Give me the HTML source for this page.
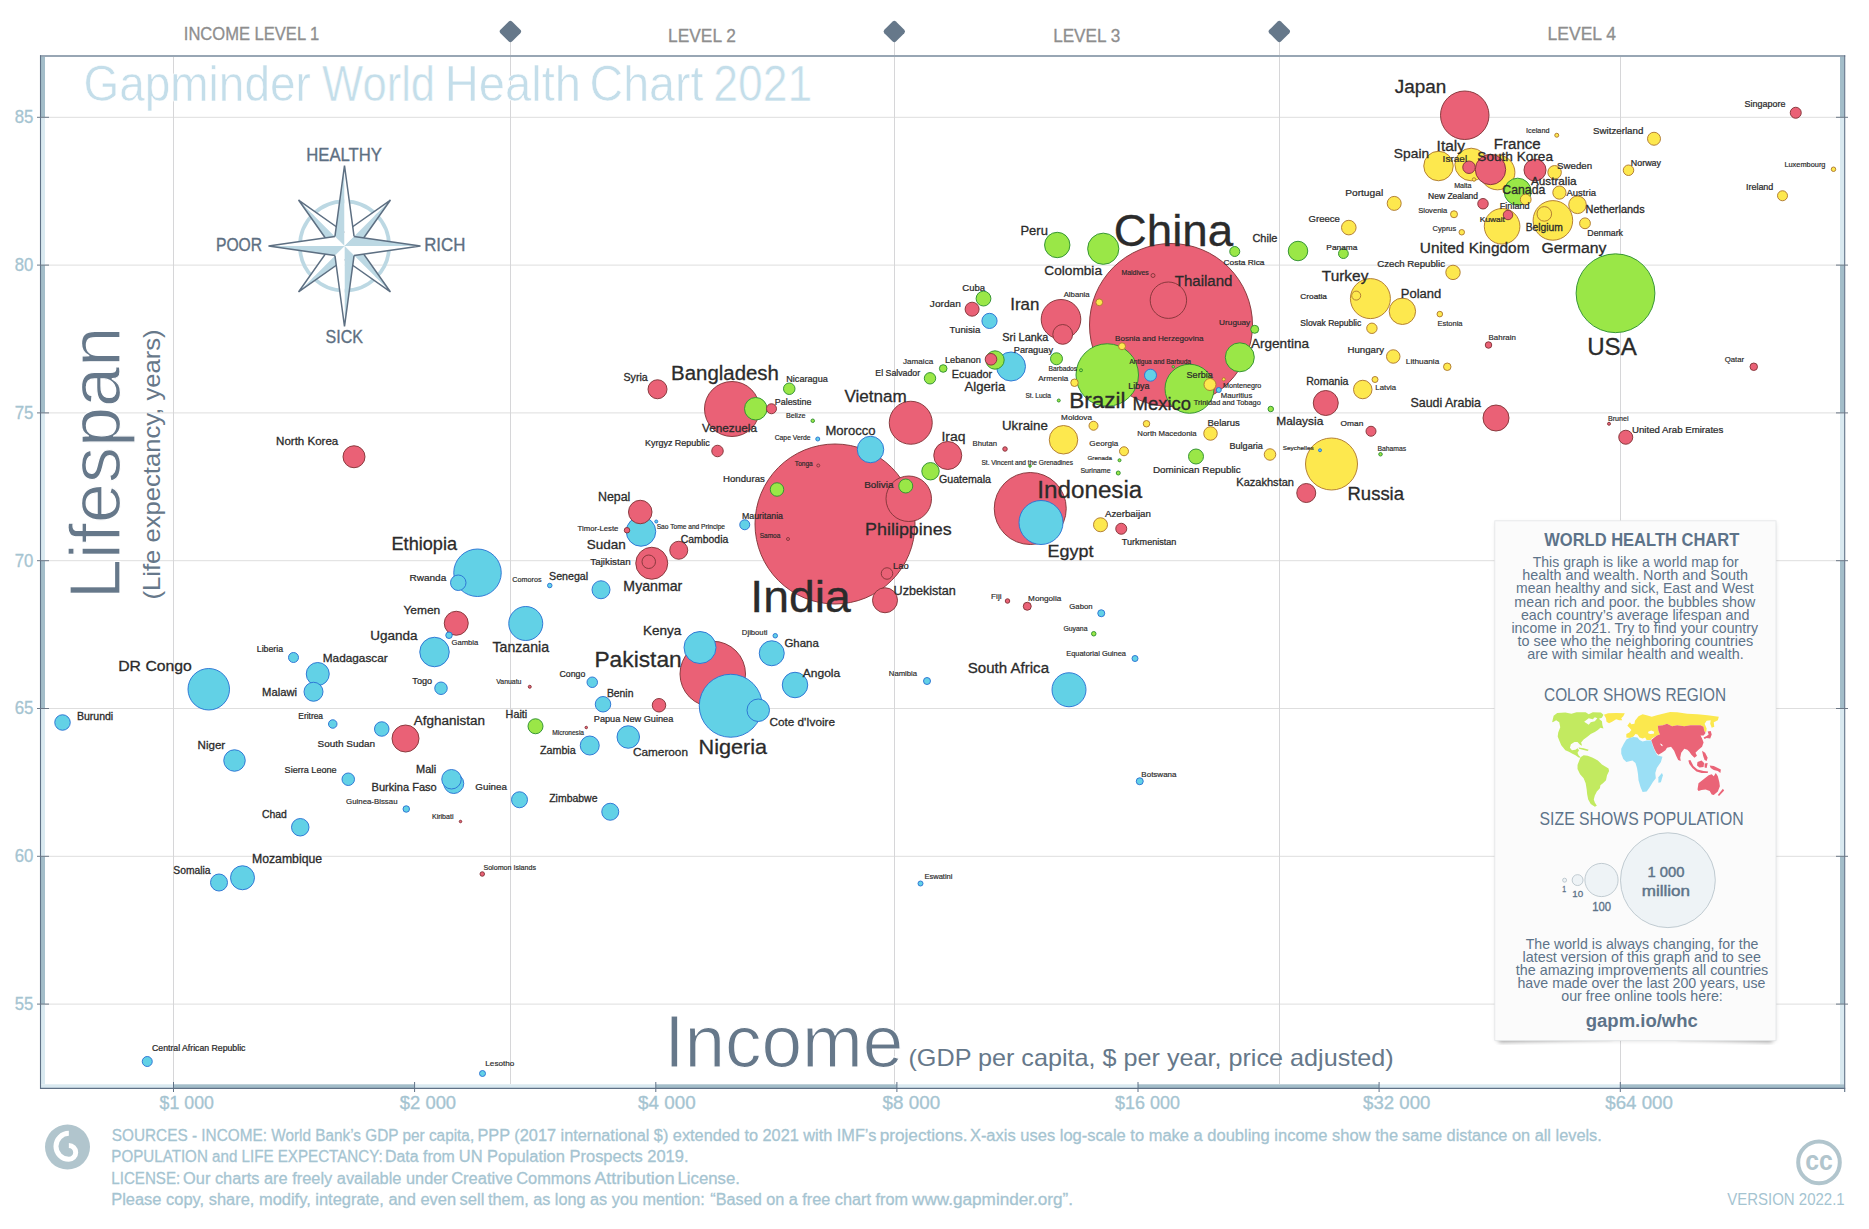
<!DOCTYPE html>
<html lang="en"><head><meta charset="utf-8"><title>Gapminder World Health Chart 2021</title>
<style>html,body{margin:0;padding:0;background:#fff}svg{display:block}</style></head>
<body>
<svg width="1869" height="1229" viewBox="0 0 1869 1229" font-family="'Liberation Sans', sans-serif">
<rect width="1869" height="1229" fill="#fff"/>
<line x1="45" x2="1840" y1="117.3" y2="117.3" stroke="#dedede" stroke-width="1"/>
<line x1="45" x2="1840" y1="265.1" y2="265.1" stroke="#dedede" stroke-width="1"/>
<line x1="45" x2="1840" y1="412.9" y2="412.9" stroke="#dedede" stroke-width="1"/>
<line x1="45" x2="1840" y1="560.7" y2="560.7" stroke="#dedede" stroke-width="1"/>
<line x1="45" x2="1840" y1="708.5" y2="708.5" stroke="#dedede" stroke-width="1"/>
<line x1="45" x2="1840" y1="856.3" y2="856.3" stroke="#dedede" stroke-width="1"/>
<line x1="45" x2="1840" y1="1004.1" y2="1004.1" stroke="#dedede" stroke-width="1"/>
<line x1="173.5" x2="173.5" y1="57" y2="1084" stroke="#d6d6d8" stroke-width="1"/>
<line x1="510.5" x2="510.5" y1="40" y2="1084" stroke="#d6d6d8" stroke-width="1"/>
<line x1="894.5" x2="894.5" y1="40" y2="1084" stroke="#d6d6d8" stroke-width="1"/>
<line x1="1279.5" x2="1279.5" y1="40" y2="1084" stroke="#d6d6d8" stroke-width="1"/>
<line x1="1620.5" x2="1620.5" y1="57" y2="1084" stroke="#d6d6d8" stroke-width="1"/>
<rect x="41" y="57" width="4" height="60.30" fill="#a3bdc9"/>
<rect x="1840" y="57" width="4.2" height="60.30" fill="#a3bdc9"/>
<rect x="41" y="117.3" width="4" height="147.80" fill="#d9e9f0"/>
<rect x="1840" y="117.3" width="4.2" height="147.80" fill="#d9e9f0"/>
<rect x="41" y="265.1" width="4" height="147.80" fill="#a3bdc9"/>
<rect x="1840" y="265.1" width="4.2" height="147.80" fill="#a3bdc9"/>
<rect x="41" y="412.9" width="4" height="147.80" fill="#d9e9f0"/>
<rect x="1840" y="412.9" width="4.2" height="147.80" fill="#d9e9f0"/>
<rect x="41" y="560.7" width="4" height="147.80" fill="#a3bdc9"/>
<rect x="1840" y="560.7" width="4.2" height="147.80" fill="#a3bdc9"/>
<rect x="41" y="708.5" width="4" height="147.80" fill="#d9e9f0"/>
<rect x="1840" y="708.5" width="4.2" height="147.80" fill="#d9e9f0"/>
<rect x="41" y="856.3" width="4" height="147.80" fill="#a3bdc9"/>
<rect x="1840" y="856.3" width="4.2" height="147.80" fill="#a3bdc9"/>
<rect x="41" y="1004.1" width="4" height="80.20" fill="#d9e9f0"/>
<rect x="1840" y="1004.1" width="4.2" height="80.20" fill="#d9e9f0"/>
<rect x="41" y="1084.3" width="132.50" height="3.7" fill="#d9e9f0"/>
<rect x="173.5" y="1084.3" width="241.10" height="3.7" fill="#a3bdc9"/>
<rect x="414.6" y="1084.3" width="241.20" height="3.7" fill="#d9e9f0"/>
<rect x="655.8" y="1084.3" width="241.10" height="3.7" fill="#a3bdc9"/>
<rect x="896.9" y="1084.3" width="241.10" height="3.7" fill="#d9e9f0"/>
<rect x="1138.0" y="1084.3" width="241.10" height="3.7" fill="#a3bdc9"/>
<rect x="1379.1" y="1084.3" width="241.20" height="3.7" fill="#d9e9f0"/>
<rect x="1620.3" y="1084.3" width="223.90" height="3.7" fill="#a3bdc9"/>
<line x1="40" x2="1845.2" y1="56" y2="56" stroke="#98a6b4" stroke-width="1.8"/>
<line x1="40.5" x2="40.5" y1="55.2" y2="1089" stroke="#5f7186" stroke-width="1.1"/>
<line x1="1844.7" x2="1844.7" y1="55.2" y2="1092" stroke="#5f7186" stroke-width="1.1"/>
<line x1="40" x2="1845.2" y1="1088.4" y2="1088.4" stroke="#5f7186" stroke-width="1.1"/>
<line x1="37" x2="49" y1="117.3" y2="117.3" stroke="#6b7785" stroke-width="1"/>
<line x1="1836" x2="1848" y1="117.3" y2="117.3" stroke="#6b7785" stroke-width="1"/>
<line x1="37" x2="49" y1="265.1" y2="265.1" stroke="#6b7785" stroke-width="1"/>
<line x1="1836" x2="1848" y1="265.1" y2="265.1" stroke="#6b7785" stroke-width="1"/>
<line x1="37" x2="49" y1="412.9" y2="412.9" stroke="#6b7785" stroke-width="1"/>
<line x1="1836" x2="1848" y1="412.9" y2="412.9" stroke="#6b7785" stroke-width="1"/>
<line x1="37" x2="49" y1="560.7" y2="560.7" stroke="#6b7785" stroke-width="1"/>
<line x1="1836" x2="1848" y1="560.7" y2="560.7" stroke="#6b7785" stroke-width="1"/>
<line x1="37" x2="49" y1="708.5" y2="708.5" stroke="#6b7785" stroke-width="1"/>
<line x1="1836" x2="1848" y1="708.5" y2="708.5" stroke="#6b7785" stroke-width="1"/>
<line x1="37" x2="49" y1="856.3" y2="856.3" stroke="#6b7785" stroke-width="1"/>
<line x1="1836" x2="1848" y1="856.3" y2="856.3" stroke="#6b7785" stroke-width="1"/>
<line x1="37" x2="49" y1="1004.1" y2="1004.1" stroke="#6b7785" stroke-width="1"/>
<line x1="1836" x2="1848" y1="1004.1" y2="1004.1" stroke="#6b7785" stroke-width="1"/>
<line x1="173.5" x2="173.5" y1="1082" y2="1092" stroke="#5f7186" stroke-width="1"/>
<line x1="414.6" x2="414.6" y1="1082" y2="1092" stroke="#5f7186" stroke-width="1"/>
<line x1="655.8" x2="655.8" y1="1082" y2="1092" stroke="#5f7186" stroke-width="1"/>
<line x1="896.9" x2="896.9" y1="1082" y2="1092" stroke="#5f7186" stroke-width="1"/>
<line x1="1138.0" x2="1138.0" y1="1082" y2="1092" stroke="#5f7186" stroke-width="1"/>
<line x1="1379.1" x2="1379.1" y1="1082" y2="1092" stroke="#5f7186" stroke-width="1"/>
<line x1="1620.3" x2="1620.3" y1="1082" y2="1092" stroke="#5f7186" stroke-width="1"/>
<text x="14.74" y="123.20" font-size="17.70" fill="#a5c4d1" textLength="18.67" lengthAdjust="spacingAndGlyphs" stroke="#a5c4d1" stroke-width="0.3">85</text>
<text x="14.75" y="271.00" font-size="17.70" fill="#a5c4d1" textLength="18.58" lengthAdjust="spacingAndGlyphs" stroke="#a5c4d1" stroke-width="0.3">80</text>
<text x="14.66" y="418.80" font-size="17.70" fill="#a5c4d1" textLength="18.76" lengthAdjust="spacingAndGlyphs" stroke="#a5c4d1" stroke-width="0.3">75</text>
<text x="14.66" y="566.60" font-size="17.70" fill="#a5c4d1" textLength="18.67" lengthAdjust="spacingAndGlyphs" stroke="#a5c4d1" stroke-width="0.3">70</text>
<text x="14.66" y="714.40" font-size="17.70" fill="#a5c4d1" textLength="18.76" lengthAdjust="spacingAndGlyphs" stroke="#a5c4d1" stroke-width="0.3">65</text>
<text x="14.66" y="862.20" font-size="17.70" fill="#a5c4d1" textLength="18.67" lengthAdjust="spacingAndGlyphs" stroke="#a5c4d1" stroke-width="0.3">60</text>
<text x="14.83" y="1010.00" font-size="17.70" fill="#a5c4d1" textLength="18.58" lengthAdjust="spacingAndGlyphs" stroke="#a5c4d1" stroke-width="0.3">55</text>
<text x="159.62" y="1109.00" font-size="17.70" fill="#a5c4d1" textLength="54.27" lengthAdjust="spacingAndGlyphs" stroke="#a5c4d1" stroke-width="0.3">$1 000</text>
<text x="399.82" y="1109.00" font-size="17.70" fill="#a5c4d1" textLength="56.30" lengthAdjust="spacingAndGlyphs" stroke="#a5c4d1" stroke-width="0.3">$2 000</text>
<text x="638.11" y="1109.00" font-size="17.70" fill="#a5c4d1" textLength="57.52" lengthAdjust="spacingAndGlyphs" stroke="#a5c4d1" stroke-width="0.3">$4 000</text>
<text x="882.61" y="1109.00" font-size="17.70" fill="#a5c4d1" textLength="57.52" lengthAdjust="spacingAndGlyphs" stroke="#a5c4d1" stroke-width="0.3">$8 000</text>
<text x="1115.12" y="1109.00" font-size="17.70" fill="#a5c4d1" textLength="64.80" lengthAdjust="spacingAndGlyphs" stroke="#a5c4d1" stroke-width="0.3">$16 000</text>
<text x="1363.11" y="1109.00" font-size="17.70" fill="#a5c4d1" textLength="67.34" lengthAdjust="spacingAndGlyphs" stroke="#a5c4d1" stroke-width="0.3">$32 000</text>
<text x="1605.31" y="1109.00" font-size="17.70" fill="#a5c4d1" textLength="67.64" lengthAdjust="spacingAndGlyphs" stroke="#a5c4d1" stroke-width="0.3">$64 000</text>
<text x="183.81" y="39.50" font-size="17.90" fill="#8e8e8e" textLength="135.49" lengthAdjust="spacingAndGlyphs" stroke="#8e8e8e" stroke-width="0.3">INCOME LEVEL 1</text>
<text x="668.11" y="42.00" font-size="17.90" fill="#8e8e8e" textLength="67.76" lengthAdjust="spacingAndGlyphs" stroke="#8e8e8e" stroke-width="0.3">LEVEL 2</text>
<text x="1053.13" y="42.00" font-size="17.90" fill="#8e8e8e" textLength="67.06" lengthAdjust="spacingAndGlyphs" stroke="#8e8e8e" stroke-width="0.3">LEVEL 3</text>
<text x="1547.60" y="40.00" font-size="17.90" fill="#8e8e8e" textLength="68.43" lengthAdjust="spacingAndGlyphs" stroke="#8e8e8e" stroke-width="0.3">LEVEL 4</text>
<rect x="502.2" y="23.3" width="16.4" height="16.4" rx="2.3" fill="#66788a" transform="rotate(45 510.4 31.5)"/>
<rect x="886.0999999999999" y="23.3" width="16.4" height="16.4" rx="2.3" fill="#66788a" transform="rotate(45 894.3 31.5)"/>
<rect x="1271.1" y="23.3" width="16.4" height="16.4" rx="2.3" fill="#66788a" transform="rotate(45 1279.3 31.5)"/>
<text x="83.40" y="100.70" font-size="50.60" fill="#c4deea" textLength="227.48" lengthAdjust="spacingAndGlyphs" stroke="#fff" stroke-width="0.6">Gapminder</text>
<text x="322.08" y="100.70" font-size="50.60" fill="#c4deea" textLength="113.00" lengthAdjust="spacingAndGlyphs" stroke="#fff" stroke-width="0.6">World</text>
<text x="444.73" y="100.70" font-size="50.60" fill="#c4deea" textLength="136.37" lengthAdjust="spacingAndGlyphs" stroke="#fff" stroke-width="0.6">Health</text>
<text x="589.57" y="100.70" font-size="50.60" fill="#c4deea" textLength="113.88" lengthAdjust="spacingAndGlyphs" stroke="#fff" stroke-width="0.6">Chart</text>
<text x="713.17" y="100.70" font-size="50.60" fill="#c4deea" textLength="99.01" lengthAdjust="spacingAndGlyphs" stroke="#fff" stroke-width="0.6">2021</text>
<g transform="translate(119.5,593) rotate(-90)">
<text x="-6.37" y="0.00" font-size="73.00" fill="#66788a" textLength="272.72" lengthAdjust="spacingAndGlyphs" stroke="#fff" stroke-width="1.2">Lifespan</text>
</g>
<g transform="translate(160,598) rotate(-90)">
<text x="-1.54" y="0.00" font-size="23.40" fill="#66788a" textLength="270.12" lengthAdjust="spacingAndGlyphs">(Life expectancy, years)</text>
</g>
<text x="664.13" y="1066.50" font-size="73.50" fill="#66788a" textLength="239.31" lengthAdjust="spacingAndGlyphs" stroke="#fff" stroke-width="1.2">Income</text>
<text x="908.49" y="1065.50" font-size="23.40" fill="#66788a" textLength="485.14" lengthAdjust="spacingAndGlyphs">(GDP per capita, $ per year, price adjusted)</text>
<circle cx="344.5" cy="246.0" r="44.6" fill="none" stroke="#bcd8e3" stroke-width="3.7"/>
<polygon points="344.50,246.00 344.50,232.50 390.46,200.04" fill="#fff"/>
<polygon points="344.50,246.00 358.00,246.00 390.46,200.04" fill="#bcd8e3"/>
<polyline points="344.50,232.50 390.46,200.04 358.00,246.00" fill="none" stroke="#5d6f82" stroke-width="1.5" stroke-linejoin="miter"/>
<polygon points="344.50,246.00 331.00,246.00 298.54,200.04" fill="#bcd8e3"/>
<polygon points="344.50,246.00 344.50,232.50 298.54,200.04" fill="#fff"/>
<polyline points="331.00,246.00 298.54,200.04 344.50,232.50" fill="none" stroke="#5d6f82" stroke-width="1.5" stroke-linejoin="miter"/>
<polygon points="344.50,246.00 344.50,259.50 298.54,291.96" fill="#bcd8e3"/>
<polygon points="344.50,246.00 331.00,246.00 298.54,291.96" fill="#fff"/>
<polyline points="344.50,259.50 298.54,291.96 331.00,246.00" fill="none" stroke="#5d6f82" stroke-width="1.5" stroke-linejoin="miter"/>
<polygon points="344.50,246.00 358.00,246.00 390.46,291.96" fill="#bcd8e3"/>
<polygon points="344.50,246.00 344.50,259.50 390.46,291.96" fill="#fff"/>
<polyline points="358.00,246.00 390.46,291.96 344.50,259.50" fill="none" stroke="#5d6f82" stroke-width="1.5" stroke-linejoin="miter"/>
<polygon points="344.50,246.00 334.95,236.45 344.50,165.50" fill="#bcd8e3"/>
<polygon points="344.50,246.00 354.05,236.45 344.50,165.50" fill="#fff"/>
<polyline points="334.95,236.45 344.50,165.50 354.05,236.45" fill="none" stroke="#5d6f82" stroke-width="1.5" stroke-linejoin="miter"/>
<polygon points="344.50,246.00 354.05,236.45 420.50,246.00" fill="#bcd8e3"/>
<polygon points="344.50,246.00 354.05,255.55 420.50,246.00" fill="#fff"/>
<polyline points="354.05,236.45 420.50,246.00 354.05,255.55" fill="none" stroke="#5d6f82" stroke-width="1.5" stroke-linejoin="miter"/>
<polygon points="344.50,246.00 354.05,255.55 344.50,326.50" fill="#bcd8e3"/>
<polygon points="344.50,246.00 334.95,255.55 344.50,326.50" fill="#fff"/>
<polyline points="354.05,255.55 344.50,326.50 334.95,255.55" fill="none" stroke="#5d6f82" stroke-width="1.5" stroke-linejoin="miter"/>
<polygon points="344.50,246.00 334.95,255.55 268.50,246.00" fill="#bcd8e3"/>
<polygon points="344.50,246.00 334.95,236.45 268.50,246.00" fill="#fff"/>
<polyline points="334.95,255.55 268.50,246.00 334.95,236.45" fill="none" stroke="#5d6f82" stroke-width="1.5" stroke-linejoin="miter"/>
<text x="306.27" y="160.90" font-size="18.40" fill="#5d6f82" textLength="75.62" lengthAdjust="spacingAndGlyphs" stroke="#5d6f82" stroke-width="0.35">HEALTHY</text>
<text x="215.95" y="250.80" font-size="18.40" fill="#5d6f82" textLength="46.16" lengthAdjust="spacingAndGlyphs" stroke="#5d6f82" stroke-width="0.35">POOR</text>
<text x="424.15" y="250.80" font-size="18.40" fill="#5d6f82" textLength="41.17" lengthAdjust="spacingAndGlyphs" stroke="#5d6f82" stroke-width="0.35">RICH</text>
<text x="325.58" y="342.50" font-size="18.40" fill="#5d6f82" textLength="37.45" lengthAdjust="spacingAndGlyphs" stroke="#5d6f82" stroke-width="0.35">SICK</text>
<g stroke-width="0.95">
<circle cx="1171.0" cy="325.0" r="81.5" fill="#ea6176" stroke="#85363a"/>
<circle cx="835.0" cy="524.0" r="80.0" fill="#ea6176" stroke="#85363a"/>
<circle cx="1615.5" cy="293.25" r="39.4" fill="#9ae747" stroke="#2f9030"/>
<circle cx="1030.25" cy="508.5" r="36.0" fill="#ea6176" stroke="#85363a"/>
<circle cx="712.75" cy="674.0" r="32.75" fill="#ea6176" stroke="#85363a"/>
<circle cx="730.75" cy="705.75" r="31.5" fill="#62d1e6" stroke="#2b74d4"/>
<circle cx="1107.25" cy="375.0" r="31.25" fill="#9ae747" stroke="#2f9030"/>
<circle cx="732.0" cy="409.0" r="27.5" fill="#ea6176" stroke="#85363a"/>
<circle cx="1331.5" cy="464.0" r="26.0" fill="#fde84e" stroke="#b07a30"/>
<circle cx="1189.5" cy="388.75" r="24.5" fill="#9ae747" stroke="#2f9030"/>
<circle cx="1464.75" cy="115.25" r="24.25" fill="#ea6176" stroke="#85363a"/>
<circle cx="477.5" cy="572.75" r="23.75" fill="#62d1e6" stroke="#2b74d4"/>
<circle cx="908.75" cy="498.75" r="22.75" fill="#ea6176" stroke="#85363a"/>
<circle cx="1041.0" cy="522.5" r="22.0" fill="#62d1e6" stroke="#2b74d4"/>
<circle cx="910.75" cy="422.75" r="21.5" fill="#ea6176" stroke="#85363a"/>
<circle cx="208.75" cy="689.25" r="20.75" fill="#62d1e6" stroke="#2b74d4"/>
<circle cx="1370.4" cy="298.6" r="20.0" fill="#fde84e" stroke="#b07a30"/>
<circle cx="1061.0" cy="319.3" r="19.8" fill="#ea6176" stroke="#85363a"/>
<circle cx="1552.9" cy="220.4" r="19.8" fill="#fde84e" stroke="#b07a30"/>
<circle cx="1168.4" cy="300.2" r="18.2" fill="#ea6176" stroke="#85363a"/>
<circle cx="1502.1" cy="226.3" r="17.8" fill="#fde84e" stroke="#b07a30"/>
<circle cx="1497.5" cy="172.4" r="17.4" fill="#fde84e" stroke="#b07a30"/>
<circle cx="525.75" cy="623.5" r="17.0" fill="#62d1e6" stroke="#2b74d4"/>
<circle cx="1069.0" cy="689.75" r="17.0" fill="#62d1e6" stroke="#2b74d4"/>
<circle cx="1471.2" cy="164.5" r="16.3" fill="#fde84e" stroke="#b07a30"/>
<circle cx="651.75" cy="563.25" r="16.0" fill="#ea6176" stroke="#85363a"/>
<circle cx="700.0" cy="647.5" r="16.0" fill="#62d1e6" stroke="#2b74d4"/>
<circle cx="1103.25" cy="248.75" r="15.6" fill="#9ae747" stroke="#2f9030"/>
<circle cx="1490.5" cy="169.5" r="15.2" fill="#ea6176" stroke="#85363a"/>
<circle cx="1438.5" cy="166.0" r="14.75" fill="#fde84e" stroke="#b07a30"/>
<circle cx="641.0" cy="531.5" r="14.75" fill="#62d1e6" stroke="#2b74d4"/>
<circle cx="434.5" cy="652.0" r="14.75" fill="#62d1e6" stroke="#2b74d4"/>
<circle cx="1239.8" cy="357.3" r="14.5" fill="#9ae747" stroke="#2f9030"/>
<circle cx="1011.0" cy="366.5" r="14.5" fill="#62d1e6" stroke="#2b74d4"/>
<circle cx="1063.5" cy="439.75" r="14.25" fill="#fde84e" stroke="#b07a30"/>
<circle cx="947.75" cy="455.5" r="14.0" fill="#ea6176" stroke="#85363a"/>
<circle cx="405.5" cy="738.5" r="13.5" fill="#ea6176" stroke="#85363a"/>
<circle cx="1517.7" cy="191.7" r="13.5" fill="#9ae747" stroke="#2f9030"/>
<circle cx="870.5" cy="449.5" r="13.25" fill="#62d1e6" stroke="#2b74d4"/>
<circle cx="1402.4" cy="311.3" r="13.2" fill="#fde84e" stroke="#b07a30"/>
<circle cx="1496.0" cy="418.0" r="13.0" fill="#ea6176" stroke="#85363a"/>
<circle cx="795.0" cy="685.0" r="12.75" fill="#62d1e6" stroke="#2b74d4"/>
<circle cx="1057.25" cy="245.0" r="12.7" fill="#9ae747" stroke="#2f9030"/>
<circle cx="885.0" cy="600.25" r="12.5" fill="#ea6176" stroke="#85363a"/>
<circle cx="1325.75" cy="403.0" r="12.5" fill="#ea6176" stroke="#85363a"/>
<circle cx="771.75" cy="653.25" r="12.5" fill="#62d1e6" stroke="#2b74d4"/>
<circle cx="456.25" cy="623.25" r="12.0" fill="#ea6176" stroke="#85363a"/>
<circle cx="242.5" cy="877.75" r="12.0" fill="#62d1e6" stroke="#2b74d4"/>
<circle cx="640.25" cy="512.0" r="11.75" fill="#ea6176" stroke="#85363a"/>
<circle cx="317.75" cy="674.0" r="11.5" fill="#62d1e6" stroke="#2b74d4"/>
<circle cx="755.75" cy="408.75" r="11.25" fill="#9ae747" stroke="#2f9030"/>
<circle cx="758.25" cy="710.25" r="11.25" fill="#62d1e6" stroke="#2b74d4"/>
<circle cx="628.25" cy="737.0" r="11.25" fill="#62d1e6" stroke="#2b74d4"/>
<circle cx="1535.0" cy="170.0" r="11.0" fill="#ea6176" stroke="#85363a"/>
<circle cx="354.0" cy="456.75" r="11.0" fill="#ea6176" stroke="#85363a"/>
<circle cx="234.5" cy="760.5" r="10.75" fill="#62d1e6" stroke="#2b74d4"/>
<circle cx="453.75" cy="783.5" r="10.0" fill="#62d1e6" stroke="#2b74d4"/>
<circle cx="1062.7" cy="334.4" r="9.9" fill="#ea6176" stroke="#85363a"/>
<circle cx="1298.0" cy="251.0" r="9.75" fill="#9ae747" stroke="#2f9030"/>
<circle cx="451.5" cy="779.25" r="9.75" fill="#62d1e6" stroke="#2b74d4"/>
<circle cx="657.5" cy="389.25" r="9.5" fill="#ea6176" stroke="#85363a"/>
<circle cx="1306.25" cy="493.0" r="9.5" fill="#ea6176" stroke="#85363a"/>
<circle cx="313.5" cy="691.75" r="9.5" fill="#62d1e6" stroke="#2b74d4"/>
<circle cx="589.75" cy="745.5" r="9.5" fill="#62d1e6" stroke="#2b74d4"/>
<circle cx="1362.75" cy="389.5" r="9.25" fill="#fde84e" stroke="#b07a30"/>
<circle cx="995.0" cy="360.0" r="9.2" fill="#9ae747" stroke="#2f9030"/>
<circle cx="678.75" cy="550.25" r="9.0" fill="#ea6176" stroke="#85363a"/>
<circle cx="601.0" cy="589.75" r="9.0" fill="#62d1e6" stroke="#2b74d4"/>
<circle cx="1577.5" cy="204.8" r="8.8" fill="#fde84e" stroke="#b07a30"/>
<circle cx="300.25" cy="827.25" r="8.75" fill="#62d1e6" stroke="#2b74d4"/>
<circle cx="930.5" cy="471.25" r="8.7" fill="#9ae747" stroke="#2f9030"/>
<circle cx="219.0" cy="882.5" r="8.5" fill="#62d1e6" stroke="#2b74d4"/>
<circle cx="610.25" cy="811.75" r="8.5" fill="#62d1e6" stroke="#2b74d4"/>
<circle cx="519.5" cy="799.75" r="8.0" fill="#62d1e6" stroke="#2b74d4"/>
<circle cx="458.25" cy="582.75" r="7.75" fill="#62d1e6" stroke="#2b74d4"/>
<circle cx="62.5" cy="722.5" r="7.75" fill="#62d1e6" stroke="#2b74d4"/>
<circle cx="603.0" cy="704.25" r="7.75" fill="#62d1e6" stroke="#2b74d4"/>
<circle cx="989.5" cy="320.9" r="7.6" fill="#62d1e6" stroke="#2b74d4"/>
<circle cx="1196.0" cy="456.5" r="7.5" fill="#9ae747" stroke="#2f9030"/>
<circle cx="535.5" cy="726.25" r="7.5" fill="#9ae747" stroke="#2f9030"/>
<circle cx="983.5" cy="298.6" r="7.4" fill="#9ae747" stroke="#2f9030"/>
<circle cx="1544.3" cy="213.9" r="7.3" fill="#fde84e" stroke="#b07a30"/>
<circle cx="1348.8" cy="227.6" r="7.3" fill="#fde84e" stroke="#b07a30"/>
<circle cx="381.75" cy="729.0" r="7.25" fill="#62d1e6" stroke="#2b74d4"/>
<circle cx="1453.0" cy="272.4" r="7.2" fill="#fde84e" stroke="#b07a30"/>
<circle cx="972.1" cy="309.2" r="7.0" fill="#ea6176" stroke="#85363a"/>
<circle cx="1625.75" cy="437.25" r="7.0" fill="#ea6176" stroke="#85363a"/>
<circle cx="1394.2" cy="203.4" r="7.0" fill="#fde84e" stroke="#b07a30"/>
<circle cx="1100.5" cy="524.75" r="7.0" fill="#fde84e" stroke="#b07a30"/>
<circle cx="905.75" cy="486.0" r="7.0" fill="#9ae747" stroke="#2f9030"/>
<circle cx="648.75" cy="561.75" r="6.75" fill="#ea6176" stroke="#85363a"/>
<circle cx="659.0" cy="705.25" r="6.75" fill="#ea6176" stroke="#85363a"/>
<circle cx="1554.6" cy="172.3" r="6.75" fill="#fde84e" stroke="#b07a30"/>
<circle cx="1393.25" cy="356.5" r="6.75" fill="#fde84e" stroke="#b07a30"/>
<circle cx="1210.5" cy="433.5" r="6.75" fill="#fde84e" stroke="#b07a30"/>
<circle cx="777.0" cy="489.5" r="6.75" fill="#9ae747" stroke="#2f9030"/>
<circle cx="1559.4" cy="192.6" r="6.6" fill="#fde84e" stroke="#b07a30"/>
<circle cx="1654.0" cy="138.75" r="6.5" fill="#fde84e" stroke="#b07a30"/>
<circle cx="1469.0" cy="167.25" r="6.25" fill="#ea6176" stroke="#85363a"/>
<circle cx="441.0" cy="688.25" r="6.25" fill="#62d1e6" stroke="#2b74d4"/>
<circle cx="348.25" cy="779.25" r="6.25" fill="#62d1e6" stroke="#2b74d4"/>
<circle cx="1210.0" cy="384.5" r="6.0" fill="#fde84e" stroke="#b07a30"/>
<circle cx="1056.5" cy="358.75" r="6.0" fill="#9ae747" stroke="#2f9030"/>
<circle cx="1150.5" cy="375.2" r="6.0" fill="#62d1e6" stroke="#2b74d4"/>
<circle cx="991.0" cy="359.3" r="5.8" fill="#ea6176" stroke="#85363a"/>
<circle cx="717.5" cy="451.0" r="5.75" fill="#ea6176" stroke="#85363a"/>
<circle cx="887.0" cy="573.5" r="5.75" fill="#ea6176" stroke="#85363a"/>
<circle cx="1270.0" cy="454.5" r="5.75" fill="#fde84e" stroke="#b07a30"/>
<circle cx="789.25" cy="388.75" r="5.75" fill="#9ae747" stroke="#2f9030"/>
<circle cx="930.0" cy="378.3" r="5.7" fill="#9ae747" stroke="#2f9030"/>
<circle cx="1795.75" cy="112.75" r="5.5" fill="#ea6176" stroke="#85363a"/>
<circle cx="1121.25" cy="528.75" r="5.5" fill="#ea6176" stroke="#85363a"/>
<circle cx="1525.7" cy="199.5" r="5.4" fill="#fde84e" stroke="#b07a30"/>
<circle cx="1585.0" cy="223.3" r="5.4" fill="#fde84e" stroke="#b07a30"/>
<circle cx="1483.0" cy="203.75" r="5.25" fill="#ea6176" stroke="#85363a"/>
<circle cx="1628.5" cy="170.25" r="5.25" fill="#fde84e" stroke="#b07a30"/>
<circle cx="592.25" cy="682.25" r="5.25" fill="#62d1e6" stroke="#2b74d4"/>
<circle cx="1371.9" cy="328.3" r="5.2" fill="#fde84e" stroke="#b07a30"/>
<circle cx="771.5" cy="408.75" r="5.0" fill="#ea6176" stroke="#85363a"/>
<circle cx="1371.0" cy="431.25" r="5.0" fill="#ea6176" stroke="#85363a"/>
<circle cx="1782.5" cy="195.75" r="5.0" fill="#fde84e" stroke="#b07a30"/>
<circle cx="1234.75" cy="251.5" r="5.0" fill="#9ae747" stroke="#2f9030"/>
<circle cx="744.75" cy="524.75" r="5.0" fill="#62d1e6" stroke="#2b74d4"/>
<circle cx="293.5" cy="657.5" r="5.0" fill="#62d1e6" stroke="#2b74d4"/>
<circle cx="147.25" cy="1061.5" r="5.0" fill="#62d1e6" stroke="#2b74d4"/>
<circle cx="1343.4" cy="253.6" r="4.9" fill="#9ae747" stroke="#2f9030"/>
<circle cx="1508.0" cy="215.0" r="4.75" fill="#ea6176" stroke="#85363a"/>
<circle cx="1356.2" cy="295.6" r="4.5" fill="#fde84e" stroke="#b07a30"/>
<circle cx="1093.5" cy="425.75" r="4.5" fill="#fde84e" stroke="#b07a30"/>
<circle cx="1124.0" cy="451.25" r="4.5" fill="#fde84e" stroke="#b07a30"/>
<circle cx="332.75" cy="724.0" r="4.25" fill="#62d1e6" stroke="#2b74d4"/>
<circle cx="1027.25" cy="606.25" r="4.0" fill="#ea6176" stroke="#85363a"/>
<circle cx="1254.7" cy="329.3" r="4.0" fill="#9ae747" stroke="#2f9030"/>
<circle cx="943.2" cy="368.5" r="3.8" fill="#9ae747" stroke="#2f9030"/>
<circle cx="1753.75" cy="366.75" r="3.75" fill="#ea6176" stroke="#85363a"/>
<circle cx="1447.25" cy="366.75" r="3.75" fill="#fde84e" stroke="#b07a30"/>
<circle cx="1074.5" cy="382.75" r="3.75" fill="#fde84e" stroke="#b07a30"/>
<circle cx="1454.0" cy="214.25" r="3.5" fill="#fde84e" stroke="#b07a30"/>
<circle cx="1122.0" cy="346.25" r="3.5" fill="#fde84e" stroke="#b07a30"/>
<circle cx="1101.25" cy="613.25" r="3.5" fill="#62d1e6" stroke="#2b74d4"/>
<circle cx="927.0" cy="681.0" r="3.5" fill="#62d1e6" stroke="#2b74d4"/>
<circle cx="1139.75" cy="781.25" r="3.5" fill="#62d1e6" stroke="#2b74d4"/>
<circle cx="1099.25" cy="302.3" r="3.4" fill="#fde84e" stroke="#b07a30"/>
<circle cx="1488.5" cy="345.0" r="3.25" fill="#ea6176" stroke="#85363a"/>
<circle cx="1146.5" cy="423.75" r="3.25" fill="#fde84e" stroke="#b07a30"/>
<circle cx="449.0" cy="635.25" r="3.25" fill="#62d1e6" stroke="#2b74d4"/>
<circle cx="406.25" cy="809.0" r="3.25" fill="#62d1e6" stroke="#2b74d4"/>
<circle cx="1375.0" cy="379.5" r="3.0" fill="#fde84e" stroke="#b07a30"/>
<circle cx="1135.0" cy="658.5" r="3.0" fill="#62d1e6" stroke="#2b74d4"/>
<circle cx="482.5" cy="1073.5" r="3.0" fill="#62d1e6" stroke="#2b74d4"/>
<circle cx="1439.8" cy="314.1" r="2.8" fill="#fde84e" stroke="#b07a30"/>
<circle cx="627.0" cy="530.25" r="2.75" fill="#ea6176" stroke="#85363a"/>
<circle cx="1461.75" cy="232.25" r="2.75" fill="#fde84e" stroke="#b07a30"/>
<circle cx="1270.75" cy="409.0" r="2.75" fill="#9ae747" stroke="#2f9030"/>
<circle cx="1218.75" cy="390.0" r="2.5" fill="#62d1e6" stroke="#2b74d4"/>
<circle cx="920.5" cy="883.5" r="2.5" fill="#62d1e6" stroke="#2b74d4"/>
<circle cx="482.25" cy="874.0" r="2.25" fill="#ea6176" stroke="#85363a"/>
<circle cx="1005.0" cy="449.0" r="2.25" fill="#ea6176" stroke="#85363a"/>
<circle cx="1007.5" cy="601.0" r="2.25" fill="#ea6176" stroke="#85363a"/>
<circle cx="1833.5" cy="169.25" r="2.25" fill="#fde84e" stroke="#b07a30"/>
<circle cx="1093.75" cy="633.75" r="2.25" fill="#9ae747" stroke="#2f9030"/>
<circle cx="549.75" cy="585.5" r="2.25" fill="#62d1e6" stroke="#2b74d4"/>
<circle cx="775.25" cy="635.75" r="2.25" fill="#62d1e6" stroke="#2b74d4"/>
<circle cx="1153.0" cy="275.5" r="2.0" fill="#ea6176" stroke="#85363a"/>
<circle cx="1556.75" cy="135.25" r="2.0" fill="#fde84e" stroke="#b07a30"/>
<circle cx="1118.25" cy="473.0" r="2.0" fill="#9ae747" stroke="#2f9030"/>
<circle cx="817.75" cy="439.0" r="2.0" fill="#62d1e6" stroke="#2b74d4"/>
<circle cx="1474.0" cy="179.5" r="1.75" fill="#fde84e" stroke="#b07a30"/>
<circle cx="812.75" cy="420.75" r="1.75" fill="#9ae747" stroke="#2f9030"/>
<circle cx="1380.5" cy="454.25" r="1.75" fill="#9ae747" stroke="#2f9030"/>
<circle cx="1223.75" cy="379.3" r="1.6" fill="#fde84e" stroke="#b07a30"/>
<circle cx="818.25" cy="465.5" r="1.5" fill="#ea6176" stroke="#85363a"/>
<circle cx="788.0" cy="539.0" r="1.5" fill="#ea6176" stroke="#85363a"/>
<circle cx="529.75" cy="686.75" r="1.5" fill="#ea6176" stroke="#85363a"/>
<circle cx="1609.0" cy="423.75" r="1.5" fill="#ea6176" stroke="#85363a"/>
<circle cx="1081.0" cy="370.25" r="1.5" fill="#9ae747" stroke="#2f9030"/>
<circle cx="1058.75" cy="400.5" r="1.5" fill="#9ae747" stroke="#2f9030"/>
<circle cx="1119.5" cy="460.25" r="1.5" fill="#9ae747" stroke="#2f9030"/>
<circle cx="1320.0" cy="450.25" r="1.5" fill="#62d1e6" stroke="#2b74d4"/>
<circle cx="656.25" cy="521.5" r="1.5" fill="#62d1e6" stroke="#2b74d4"/>
<circle cx="460.5" cy="821.5" r="1.25" fill="#ea6176" stroke="#85363a"/>
<circle cx="586.25" cy="727.5" r="1.25" fill="#ea6176" stroke="#85363a"/>
<circle cx="1173.25" cy="366.75" r="1.25" fill="#9ae747" stroke="#2f9030"/>
<circle cx="1030.0" cy="466.0" r="1.25" fill="#9ae747" stroke="#2f9030"/>
</g>
<g fill="#2b2b2b">
<text x="1394.72" y="92.50" font-size="18.35" textLength="51.51" lengthAdjust="spacingAndGlyphs" stroke="#2b2b2b" stroke-width="0.3">Japan</text>
<text x="1744.60" y="107.00" font-size="8.69" textLength="40.80" lengthAdjust="spacingAndGlyphs" stroke="#2b2b2b" stroke-width="0.24">Singapore</text>
<text x="1526.10" y="132.50" font-size="7.04" textLength="23.37" lengthAdjust="spacingAndGlyphs" stroke="#2b2b2b" stroke-width="0.18">Iceland</text>
<text x="1593.06" y="133.75" font-size="9.45" textLength="50.31" lengthAdjust="spacingAndGlyphs" stroke="#2b2b2b" stroke-width="0.24">Switzerland</text>
<text x="1630.79" y="166.00" font-size="8.65" textLength="30.21" lengthAdjust="spacingAndGlyphs" stroke="#2b2b2b" stroke-width="0.24">Norway</text>
<text x="1784.41" y="166.50" font-size="7.17" textLength="41.07" lengthAdjust="spacingAndGlyphs" stroke="#2b2b2b" stroke-width="0.18">Luxembourg</text>
<text x="1745.94" y="190.00" font-size="8.70" textLength="27.41" lengthAdjust="spacingAndGlyphs" stroke="#2b2b2b" stroke-width="0.24">Ireland</text>
<text x="1393.88" y="157.50" font-size="13.38" textLength="35.25" lengthAdjust="spacingAndGlyphs" stroke="#2b2b2b" stroke-width="0.3">Spain</text>
<text x="1436.61" y="151.00" font-size="15.02" textLength="28.38" lengthAdjust="spacingAndGlyphs" stroke="#2b2b2b" stroke-width="0.3">Italy</text>
<text x="1442.60" y="161.75" font-size="9.75" textLength="24.56" lengthAdjust="spacingAndGlyphs" stroke="#2b2b2b" stroke-width="0.24">Israel</text>
<text x="1493.79" y="149.00" font-size="14.64" textLength="46.92" lengthAdjust="spacingAndGlyphs" stroke="#2b2b2b" stroke-width="0.3">France</text>
<text x="1477.39" y="161.00" font-size="13.20" textLength="75.61" lengthAdjust="spacingAndGlyphs" stroke="#2b2b2b" stroke-width="0.3">South Korea</text>
<text x="1557.06" y="168.75" font-size="9.42" textLength="35.06" lengthAdjust="spacingAndGlyphs" stroke="#2b2b2b" stroke-width="0.24">Sweden</text>
<text x="1454.18" y="187.50" font-size="6.88" textLength="17.32" lengthAdjust="spacingAndGlyphs" stroke="#2b2b2b" stroke-width="0.18">Malta</text>
<text x="1502.39" y="194.25" font-size="11.89" textLength="42.90" lengthAdjust="spacingAndGlyphs" stroke="#2b2b2b" stroke-width="0.3">Canada</text>
<text x="1531.00" y="185.00" font-size="11.36" textLength="45.51" lengthAdjust="spacingAndGlyphs" stroke="#2b2b2b" stroke-width="0.3">Australia</text>
<text x="1566.50" y="195.50" font-size="9.21" textLength="29.52" lengthAdjust="spacingAndGlyphs" stroke="#2b2b2b" stroke-width="0.24">Austria</text>
<text x="1499.77" y="208.75" font-size="8.83" textLength="29.82" lengthAdjust="spacingAndGlyphs" stroke="#2b2b2b" stroke-width="0.24">Finland</text>
<text x="1428.07" y="199.25" font-size="8.24" textLength="50.00" lengthAdjust="spacingAndGlyphs" stroke="#2b2b2b" stroke-width="0.24">New Zealand</text>
<text x="1418.16" y="212.75" font-size="7.36" textLength="29.10" lengthAdjust="spacingAndGlyphs" stroke="#2b2b2b" stroke-width="0.18">Slovenia</text>
<text x="1432.63" y="230.50" font-size="7.24" textLength="23.62" lengthAdjust="spacingAndGlyphs" stroke="#2b2b2b" stroke-width="0.18">Cyprus</text>
<text x="1479.83" y="221.50" font-size="8.08" textLength="24.97" lengthAdjust="spacingAndGlyphs" stroke="#2b2b2b" stroke-width="0.24">Kuwait</text>
<text x="1419.84" y="252.50" font-size="14.96" textLength="109.66" lengthAdjust="spacingAndGlyphs" stroke="#2b2b2b" stroke-width="0.3">United Kingdom</text>
<text x="1541.46" y="252.50" font-size="15.36" textLength="65.08" lengthAdjust="spacingAndGlyphs" stroke="#2b2b2b" stroke-width="0.3">Germany</text>
<text x="1525.68" y="231.00" font-size="10.00" textLength="37.22" lengthAdjust="spacingAndGlyphs" stroke="#2b2b2b" stroke-width="0.3">Belgium</text>
<text x="1585.62" y="213.00" font-size="10.63" textLength="59.03" lengthAdjust="spacingAndGlyphs" stroke="#2b2b2b" stroke-width="0.3">Netherlands</text>
<text x="1587.30" y="236.00" font-size="8.55" textLength="35.72" lengthAdjust="spacingAndGlyphs" stroke="#2b2b2b" stroke-width="0.24">Denmark</text>
<text x="1377.22" y="266.70" font-size="9.40" textLength="67.81" lengthAdjust="spacingAndGlyphs" stroke="#2b2b2b" stroke-width="0.24">Czech Republic</text>
<text x="1400.76" y="297.60" font-size="12.62" textLength="40.47" lengthAdjust="spacingAndGlyphs" stroke="#2b2b2b" stroke-width="0.3">Poland</text>
<text x="1587.19" y="354.50" font-size="23.41" textLength="49.59" lengthAdjust="spacingAndGlyphs" stroke="#2b2b2b" stroke-width="0.3">USA</text>
<text x="1345.18" y="196.00" font-size="9.90" textLength="37.98" lengthAdjust="spacingAndGlyphs" stroke="#2b2b2b" stroke-width="0.24">Portugal</text>
<text x="1308.52" y="222.00" font-size="9.30" textLength="31.40" lengthAdjust="spacingAndGlyphs" stroke="#2b2b2b" stroke-width="0.24">Greece</text>
<text x="1252.45" y="242.00" font-size="10.66" textLength="25.03" lengthAdjust="spacingAndGlyphs" stroke="#2b2b2b" stroke-width="0.3">Chile</text>
<text x="1223.58" y="265.00" font-size="8.12" textLength="40.92" lengthAdjust="spacingAndGlyphs" stroke="#2b2b2b" stroke-width="0.24">Costa Rica</text>
<text x="1326.33" y="250.00" font-size="8.12" textLength="31.17" lengthAdjust="spacingAndGlyphs" stroke="#2b2b2b" stroke-width="0.24">Panama</text>
<text x="1020.46" y="234.50" font-size="12.60" textLength="27.41" lengthAdjust="spacingAndGlyphs" stroke="#2b2b2b" stroke-width="0.3">Peru</text>
<text x="1044.32" y="274.70" font-size="13.26" textLength="57.67" lengthAdjust="spacingAndGlyphs" stroke="#2b2b2b" stroke-width="0.3">Colombia</text>
<text x="1113.71" y="246.00" font-size="44.37" textLength="119.42" lengthAdjust="spacingAndGlyphs" stroke="#2b2b2b" stroke-width="0.3">China</text>
<text x="1121.45" y="275.00" font-size="6.72" textLength="27.30" lengthAdjust="spacingAndGlyphs" stroke="#2b2b2b" stroke-width="0.18">Maldives</text>
<text x="1174.70" y="286.00" font-size="14.63" textLength="57.80" lengthAdjust="spacingAndGlyphs" stroke="#2b2b2b" stroke-width="0.3">Thailand</text>
<text x="962.27" y="291.00" font-size="9.23" textLength="22.73" lengthAdjust="spacingAndGlyphs" stroke="#2b2b2b" stroke-width="0.24">Cuba</text>
<text x="1321.79" y="280.80" font-size="14.98" textLength="46.60" lengthAdjust="spacingAndGlyphs" stroke="#2b2b2b" stroke-width="0.3">Turkey</text>
<text x="1300.29" y="298.90" font-size="8.04" textLength="26.70" lengthAdjust="spacingAndGlyphs" stroke="#2b2b2b" stroke-width="0.24">Croatia</text>
<text x="1063.70" y="297.20" font-size="7.54" textLength="25.91" lengthAdjust="spacingAndGlyphs" stroke="#2b2b2b" stroke-width="0.18">Albania</text>
<text x="1010.28" y="310.10" font-size="16.38" textLength="29.07" lengthAdjust="spacingAndGlyphs" stroke="#2b2b2b" stroke-width="0.3">Iran</text>
<text x="929.85" y="306.80" font-size="9.82" textLength="30.94" lengthAdjust="spacingAndGlyphs" stroke="#2b2b2b" stroke-width="0.24">Jordan</text>
<text x="949.56" y="332.75" font-size="9.36" textLength="30.71" lengthAdjust="spacingAndGlyphs" stroke="#2b2b2b" stroke-width="0.24">Tunisia</text>
<text x="1002.26" y="340.75" font-size="10.57" textLength="45.99" lengthAdjust="spacingAndGlyphs" stroke="#2b2b2b" stroke-width="0.3">Sri Lanka</text>
<text x="945.01" y="362.50" font-size="8.94" textLength="35.87" lengthAdjust="spacingAndGlyphs" stroke="#2b2b2b" stroke-width="0.24">Lebanon</text>
<text x="951.88" y="377.75" font-size="10.51" textLength="40.33" lengthAdjust="spacingAndGlyphs" stroke="#2b2b2b" stroke-width="0.3">Ecuador</text>
<text x="964.50" y="390.75" font-size="12.72" textLength="40.79" lengthAdjust="spacingAndGlyphs" stroke="#2b2b2b" stroke-width="0.3">Algeria</text>
<text x="903.08" y="363.50" font-size="7.85" textLength="30.11" lengthAdjust="spacingAndGlyphs" stroke="#2b2b2b" stroke-width="0.18">Jamaica</text>
<text x="875.30" y="375.75" font-size="8.52" textLength="44.87" lengthAdjust="spacingAndGlyphs" stroke="#2b2b2b" stroke-width="0.24">El Salvador</text>
<text x="1013.77" y="352.75" font-size="8.90" textLength="39.24" lengthAdjust="spacingAndGlyphs" stroke="#2b2b2b" stroke-width="0.24">Paraguay</text>
<text x="1048.46" y="370.50" font-size="6.53" textLength="28.78" lengthAdjust="spacingAndGlyphs" stroke="#2b2b2b" stroke-width="0.18">Barbados</text>
<text x="1038.25" y="380.75" font-size="7.82" textLength="29.99" lengthAdjust="spacingAndGlyphs" stroke="#2b2b2b" stroke-width="0.18">Armenia</text>
<text x="1025.45" y="397.50" font-size="6.38" textLength="25.55" lengthAdjust="spacingAndGlyphs" stroke="#2b2b2b" stroke-width="0.18">St. Lucia</text>
<text x="1069.20" y="408.25" font-size="21.85" textLength="56.28" lengthAdjust="spacingAndGlyphs" stroke="#2b2b2b" stroke-width="0.3">Brazil</text>
<text x="1132.52" y="410.25" font-size="17.93" textLength="58.51" lengthAdjust="spacingAndGlyphs" stroke="#2b2b2b" stroke-width="0.3">Mexico</text>
<text x="1128.29" y="388.75" font-size="8.62" textLength="21.22" lengthAdjust="spacingAndGlyphs" stroke="#2b2b2b" stroke-width="0.24">Libya</text>
<text x="1115.10" y="340.75" font-size="7.88" textLength="88.41" lengthAdjust="spacingAndGlyphs" stroke="#2b2b2b" stroke-width="0.18">Bosnia and Herzegovina</text>
<text x="1129.50" y="363.75" font-size="6.36" textLength="61.51" lengthAdjust="spacingAndGlyphs" stroke="#2b2b2b" stroke-width="0.18">Antigua and Barbuda</text>
<text x="1219.13" y="324.50" font-size="7.99" textLength="31.12" lengthAdjust="spacingAndGlyphs" stroke="#2b2b2b" stroke-width="0.18">Uruguay</text>
<text x="1251.00" y="347.75" font-size="13.16" textLength="58.01" lengthAdjust="spacingAndGlyphs" stroke="#2b2b2b" stroke-width="0.3">Argentina</text>
<text x="1186.59" y="377.75" font-size="8.79" textLength="26.16" lengthAdjust="spacingAndGlyphs" stroke="#2b2b2b" stroke-width="0.24">Serbia</text>
<text x="1222.92" y="387.75" font-size="6.98" textLength="38.38" lengthAdjust="spacingAndGlyphs" stroke="#2b2b2b" stroke-width="0.18">Montenegro</text>
<text x="1220.88" y="397.50" font-size="7.52" textLength="31.40" lengthAdjust="spacingAndGlyphs" stroke="#2b2b2b" stroke-width="0.18">Mauritius</text>
<text x="1193.85" y="404.50" font-size="7.17" textLength="66.96" lengthAdjust="spacingAndGlyphs" stroke="#2b2b2b" stroke-width="0.18">Trinidad and Tobago</text>
<text x="1300.37" y="326.25" font-size="8.24" textLength="60.85" lengthAdjust="spacingAndGlyphs" stroke="#2b2b2b" stroke-width="0.24">Slovak Republic</text>
<text x="1347.48" y="352.50" font-size="9.38" textLength="36.52" lengthAdjust="spacingAndGlyphs" stroke="#2b2b2b" stroke-width="0.24">Hungary</text>
<text x="1306.15" y="385.00" font-size="10.28" textLength="42.37" lengthAdjust="spacingAndGlyphs" stroke="#2b2b2b" stroke-width="0.3">Romania</text>
<text x="1276.30" y="424.50" font-size="11.56" textLength="46.96" lengthAdjust="spacingAndGlyphs" stroke="#2b2b2b" stroke-width="0.3">Malaysia</text>
<text x="1375.38" y="389.50" font-size="7.51" textLength="20.65" lengthAdjust="spacingAndGlyphs" stroke="#2b2b2b" stroke-width="0.18">Latvia</text>
<text x="1340.62" y="426.25" font-size="8.09" textLength="22.69" lengthAdjust="spacingAndGlyphs" stroke="#2b2b2b" stroke-width="0.24">Oman</text>
<text x="1437.40" y="325.75" font-size="7.31" textLength="25.11" lengthAdjust="spacingAndGlyphs" stroke="#2b2b2b" stroke-width="0.18">Estonia</text>
<text x="1488.62" y="340.00" font-size="7.65" textLength="27.16" lengthAdjust="spacingAndGlyphs" stroke="#2b2b2b" stroke-width="0.18">Bahrain</text>
<text x="1405.84" y="363.75" font-size="7.99" textLength="33.40" lengthAdjust="spacingAndGlyphs" stroke="#2b2b2b" stroke-width="0.18">Lithuania</text>
<text x="1724.65" y="361.50" font-size="7.56" textLength="19.48" lengthAdjust="spacingAndGlyphs" stroke="#2b2b2b" stroke-width="0.18">Qatar</text>
<text x="1410.44" y="406.50" font-size="12.08" textLength="70.57" lengthAdjust="spacingAndGlyphs" stroke="#2b2b2b" stroke-width="0.3">Saudi Arabia</text>
<text x="1607.93" y="420.75" font-size="6.90" textLength="20.54" lengthAdjust="spacingAndGlyphs" stroke="#2b2b2b" stroke-width="0.18">Brunei</text>
<text x="1632.03" y="432.50" font-size="9.38" textLength="91.30" lengthAdjust="spacingAndGlyphs" stroke="#2b2b2b" stroke-width="0.24">United Arab Emirates</text>
<text x="1377.45" y="450.75" font-size="6.61" textLength="28.78" lengthAdjust="spacingAndGlyphs" stroke="#2b2b2b" stroke-width="0.18">Bahamas</text>
<text x="1347.52" y="500.25" font-size="17.95" textLength="56.51" lengthAdjust="spacingAndGlyphs" stroke="#2b2b2b" stroke-width="0.3">Russia</text>
<text x="1061.10" y="419.50" font-size="7.94" textLength="30.90" lengthAdjust="spacingAndGlyphs" stroke="#2b2b2b" stroke-width="0.18">Moldova</text>
<text x="1137.38" y="435.60" font-size="7.54" textLength="59.12" lengthAdjust="spacingAndGlyphs" stroke="#2b2b2b" stroke-width="0.18">North Macedonia</text>
<text x="1207.49" y="425.90" font-size="9.26" textLength="32.35" lengthAdjust="spacingAndGlyphs" stroke="#2b2b2b" stroke-width="0.24">Belarus</text>
<text x="1002.00" y="429.50" font-size="12.92" textLength="45.86" lengthAdjust="spacingAndGlyphs" stroke="#2b2b2b" stroke-width="0.3">Ukraine</text>
<text x="941.50" y="440.75" font-size="13.49" textLength="23.95" lengthAdjust="spacingAndGlyphs" stroke="#2b2b2b" stroke-width="0.3">Iraq</text>
<text x="972.64" y="445.75" font-size="7.46" textLength="24.36" lengthAdjust="spacingAndGlyphs" stroke="#2b2b2b" stroke-width="0.18">Bhutan</text>
<text x="981.45" y="465.00" font-size="6.40" textLength="91.53" lengthAdjust="spacingAndGlyphs" stroke="#2b2b2b" stroke-width="0.18">St. Vincent and the Grenadines</text>
<text x="1089.34" y="445.75" font-size="7.89" textLength="28.93" lengthAdjust="spacingAndGlyphs" stroke="#2b2b2b" stroke-width="0.18">Georgia</text>
<text x="1087.43" y="460.25" font-size="6.13" textLength="24.58" lengthAdjust="spacingAndGlyphs" stroke="#2b2b2b" stroke-width="0.18">Grenada</text>
<text x="1080.43" y="472.50" font-size="6.84" textLength="30.13" lengthAdjust="spacingAndGlyphs" stroke="#2b2b2b" stroke-width="0.18">Suriname</text>
<text x="1152.96" y="472.50" font-size="9.58" textLength="87.77" lengthAdjust="spacingAndGlyphs" stroke="#2b2b2b" stroke-width="0.24">Dominican Republic</text>
<text x="1229.53" y="448.75" font-size="8.79" textLength="33.22" lengthAdjust="spacingAndGlyphs" stroke="#2b2b2b" stroke-width="0.24">Bulgaria</text>
<text x="1282.71" y="449.75" font-size="6.23" textLength="31.02" lengthAdjust="spacingAndGlyphs" stroke="#2b2b2b" stroke-width="0.18">Seychelles</text>
<text x="1236.37" y="486.00" font-size="10.70" textLength="57.61" lengthAdjust="spacingAndGlyphs" stroke="#2b2b2b" stroke-width="0.3">Kazakhstan</text>
<text x="938.97" y="483.00" font-size="10.33" textLength="52.05" lengthAdjust="spacingAndGlyphs" stroke="#2b2b2b" stroke-width="0.3">Guatemala</text>
<text x="1037.32" y="497.50" font-size="23.50" textLength="104.98" lengthAdjust="spacingAndGlyphs" stroke="#2b2b2b" stroke-width="0.3">Indonesia</text>
<text x="1047.57" y="557.00" font-size="17.39" textLength="45.81" lengthAdjust="spacingAndGlyphs" stroke="#2b2b2b" stroke-width="0.3">Egypt</text>
<text x="1105.00" y="517.00" font-size="9.43" textLength="45.88" lengthAdjust="spacingAndGlyphs" stroke="#2b2b2b" stroke-width="0.24">Azerbaijan</text>
<text x="1121.82" y="545.00" font-size="8.79" textLength="54.53" lengthAdjust="spacingAndGlyphs" stroke="#2b2b2b" stroke-width="0.24">Turkmenistan</text>
<text x="991.10" y="598.75" font-size="7.95" textLength="10.46" lengthAdjust="spacingAndGlyphs" stroke="#2b2b2b" stroke-width="0.18">Fiji</text>
<text x="1028.10" y="601.00" font-size="7.94" textLength="33.18" lengthAdjust="spacingAndGlyphs" stroke="#2b2b2b" stroke-width="0.18">Mongolia</text>
<text x="1069.36" y="608.50" font-size="7.49" textLength="23.16" lengthAdjust="spacingAndGlyphs" stroke="#2b2b2b" stroke-width="0.18">Gabon</text>
<text x="623.52" y="381.25" font-size="10.34" textLength="24.27" lengthAdjust="spacingAndGlyphs" stroke="#2b2b2b" stroke-width="0.3">Syria</text>
<text x="671.12" y="379.50" font-size="19.81" textLength="107.76" lengthAdjust="spacingAndGlyphs" stroke="#2b2b2b" stroke-width="0.3">Bangladesh</text>
<text x="701.94" y="432.00" font-size="11.45" textLength="55.07" lengthAdjust="spacingAndGlyphs" stroke="#2b2b2b" stroke-width="0.3">Venezuela</text>
<text x="774.79" y="404.50" font-size="8.64" textLength="36.60" lengthAdjust="spacingAndGlyphs" stroke="#2b2b2b" stroke-width="0.24">Palestine</text>
<text x="786.27" y="381.50" font-size="8.84" textLength="41.51" lengthAdjust="spacingAndGlyphs" stroke="#2b2b2b" stroke-width="0.24">Nicaragua</text>
<text x="785.92" y="417.75" font-size="7.00" textLength="19.64" lengthAdjust="spacingAndGlyphs" stroke="#2b2b2b" stroke-width="0.18">Belize</text>
<text x="774.66" y="439.50" font-size="6.60" textLength="35.91" lengthAdjust="spacingAndGlyphs" stroke="#2b2b2b" stroke-width="0.18">Cape Verde</text>
<text x="825.46" y="434.50" font-size="12.67" textLength="50.06" lengthAdjust="spacingAndGlyphs" stroke="#2b2b2b" stroke-width="0.3">Morocco</text>
<text x="844.41" y="401.50" font-size="16.59" textLength="62.37" lengthAdjust="spacingAndGlyphs" stroke="#2b2b2b" stroke-width="0.3">Vietnam</text>
<text x="645.03" y="445.75" font-size="8.69" textLength="64.69" lengthAdjust="spacingAndGlyphs" stroke="#2b2b2b" stroke-width="0.24">Kyrgyz Republic</text>
<text x="750.33" y="612.00" font-size="45.03" textLength="100.59" lengthAdjust="spacingAndGlyphs" stroke="#2b2b2b" stroke-width="0.3">India</text>
<text x="794.87" y="465.75" font-size="6.37" textLength="17.88" lengthAdjust="spacingAndGlyphs" stroke="#2b2b2b" stroke-width="0.18">Tonga</text>
<text x="759.71" y="538.25" font-size="6.30" textLength="20.57" lengthAdjust="spacingAndGlyphs" stroke="#2b2b2b" stroke-width="0.18">Samoa</text>
<text x="722.98" y="481.50" font-size="9.38" textLength="41.87" lengthAdjust="spacingAndGlyphs" stroke="#2b2b2b" stroke-width="0.24">Honduras</text>
<text x="864.20" y="488.00" font-size="9.66" textLength="29.31" lengthAdjust="spacingAndGlyphs" stroke="#2b2b2b" stroke-width="0.24">Bolivia</text>
<text x="865.07" y="534.50" font-size="17.38" textLength="86.59" lengthAdjust="spacingAndGlyphs" stroke="#2b2b2b" stroke-width="0.3">Philippines</text>
<text x="598.01" y="500.75" font-size="12.01" textLength="32.33" lengthAdjust="spacingAndGlyphs" stroke="#2b2b2b" stroke-width="0.3">Nepal</text>
<text x="586.89" y="548.75" font-size="13.10" textLength="39.01" lengthAdjust="spacingAndGlyphs" stroke="#2b2b2b" stroke-width="0.3">Sudan</text>
<text x="656.70" y="528.75" font-size="6.43" textLength="68.36" lengthAdjust="spacingAndGlyphs" stroke="#2b2b2b" stroke-width="0.18">Sao Tome and Principe</text>
<text x="577.60" y="531.25" font-size="7.47" textLength="40.77" lengthAdjust="spacingAndGlyphs" stroke="#2b2b2b" stroke-width="0.18">Timor-Leste</text>
<text x="742.05" y="518.50" font-size="8.51" textLength="40.94" lengthAdjust="spacingAndGlyphs" stroke="#2b2b2b" stroke-width="0.24">Mauritania</text>
<text x="680.73" y="542.75" font-size="10.13" textLength="47.56" lengthAdjust="spacingAndGlyphs" stroke="#2b2b2b" stroke-width="0.3">Cambodia</text>
<text x="623.37" y="590.75" font-size="13.72" textLength="58.88" lengthAdjust="spacingAndGlyphs" stroke="#2b2b2b" stroke-width="0.3">Myanmar</text>
<text x="590.30" y="565.00" font-size="9.53" textLength="40.36" lengthAdjust="spacingAndGlyphs" stroke="#2b2b2b" stroke-width="0.24">Tajikistan</text>
<text x="549.02" y="579.50" font-size="10.36" textLength="39.17" lengthAdjust="spacingAndGlyphs" stroke="#2b2b2b" stroke-width="0.3">Senegal</text>
<text x="512.39" y="581.50" font-size="6.97" textLength="29.12" lengthAdjust="spacingAndGlyphs" stroke="#2b2b2b" stroke-width="0.18">Comoros</text>
<text x="893.00" y="568.75" font-size="9.11" textLength="15.66" lengthAdjust="spacingAndGlyphs" stroke="#2b2b2b" stroke-width="0.24">Lao</text>
<text x="893.56" y="595.00" font-size="12.22" textLength="62.29" lengthAdjust="spacingAndGlyphs" stroke="#2b2b2b" stroke-width="0.3">Uzbekistan</text>
<text x="276.08" y="445.00" font-size="11.20" textLength="62.19" lengthAdjust="spacingAndGlyphs" stroke="#2b2b2b" stroke-width="0.3">North Korea</text>
<text x="391.55" y="549.50" font-size="17.58" textLength="65.43" lengthAdjust="spacingAndGlyphs" stroke="#2b2b2b" stroke-width="0.3">Ethiopia</text>
<text x="409.45" y="580.75" font-size="9.74" textLength="36.79" lengthAdjust="spacingAndGlyphs" stroke="#2b2b2b" stroke-width="0.24">Rwanda</text>
<text x="403.45" y="613.50" font-size="11.63" textLength="36.85" lengthAdjust="spacingAndGlyphs" stroke="#2b2b2b" stroke-width="0.3">Yemen</text>
<text x="76.91" y="719.75" font-size="10.22" textLength="36.30" lengthAdjust="spacingAndGlyphs" stroke="#2b2b2b" stroke-width="0.3">Burundi</text>
<text x="118.24" y="671.00" font-size="15.31" textLength="73.63" lengthAdjust="spacingAndGlyphs" stroke="#2b2b2b" stroke-width="0.3">DR Congo</text>
<text x="256.80" y="652.00" font-size="8.48" textLength="26.22" lengthAdjust="spacingAndGlyphs" stroke="#2b2b2b" stroke-width="0.24">Liberia</text>
<text x="322.81" y="662.00" font-size="11.45" textLength="64.91" lengthAdjust="spacingAndGlyphs" stroke="#2b2b2b" stroke-width="0.3">Madagascar</text>
<text x="262.10" y="696.00" font-size="10.89" textLength="34.90" lengthAdjust="spacingAndGlyphs" stroke="#2b2b2b" stroke-width="0.3">Malawi</text>
<text x="370.24" y="639.75" font-size="13.11" textLength="47.30" lengthAdjust="spacingAndGlyphs" stroke="#2b2b2b" stroke-width="0.3">Uganda</text>
<text x="451.62" y="645.25" font-size="7.39" textLength="26.64" lengthAdjust="spacingAndGlyphs" stroke="#2b2b2b" stroke-width="0.18">Gambia</text>
<text x="412.32" y="683.75" font-size="8.88" textLength="19.83" lengthAdjust="spacingAndGlyphs" stroke="#2b2b2b" stroke-width="0.24">Togo</text>
<text x="298.33" y="718.50" font-size="8.13" textLength="24.67" lengthAdjust="spacingAndGlyphs" stroke="#2b2b2b" stroke-width="0.24">Eritrea</text>
<text x="317.55" y="746.50" font-size="9.67" textLength="57.62" lengthAdjust="spacingAndGlyphs" stroke="#2b2b2b" stroke-width="0.24">South Sudan</text>
<text x="413.75" y="724.75" font-size="13.08" textLength="71.15" lengthAdjust="spacingAndGlyphs" stroke="#2b2b2b" stroke-width="0.3">Afghanistan</text>
<text x="197.57" y="749.00" font-size="11.24" textLength="27.65" lengthAdjust="spacingAndGlyphs" stroke="#2b2b2b" stroke-width="0.3">Niger</text>
<text x="284.59" y="772.75" font-size="8.83" textLength="52.08" lengthAdjust="spacingAndGlyphs" stroke="#2b2b2b" stroke-width="0.24">Sierra Leone</text>
<text x="416.12" y="773.25" font-size="10.66" textLength="20.13" lengthAdjust="spacingAndGlyphs" stroke="#2b2b2b" stroke-width="0.3">Mali</text>
<text x="371.62" y="790.75" font-size="10.73" textLength="65.10" lengthAdjust="spacingAndGlyphs" stroke="#2b2b2b" stroke-width="0.3">Burkina Faso</text>
<text x="346.11" y="804.00" font-size="7.61" textLength="51.40" lengthAdjust="spacingAndGlyphs" stroke="#2b2b2b" stroke-width="0.18">Guinea-Bissau</text>
<text x="431.94" y="818.50" font-size="6.84" textLength="21.53" lengthAdjust="spacingAndGlyphs" stroke="#2b2b2b" stroke-width="0.18">Kiribati</text>
<text x="261.98" y="817.75" font-size="10.14" textLength="24.96" lengthAdjust="spacingAndGlyphs" stroke="#2b2b2b" stroke-width="0.3">Chad</text>
<text x="252.02" y="862.75" font-size="11.88" textLength="70.03" lengthAdjust="spacingAndGlyphs" stroke="#2b2b2b" stroke-width="0.3">Mozambique</text>
<text x="173.29" y="874.00" font-size="10.01" textLength="37.24" lengthAdjust="spacingAndGlyphs" stroke="#2b2b2b" stroke-width="0.3">Somalia</text>
<text x="492.47" y="652.00" font-size="13.72" textLength="56.58" lengthAdjust="spacingAndGlyphs" stroke="#2b2b2b" stroke-width="0.3">Tanzania</text>
<text x="642.92" y="634.75" font-size="13.13" textLength="38.34" lengthAdjust="spacingAndGlyphs" stroke="#2b2b2b" stroke-width="0.3">Kenya</text>
<text x="594.43" y="666.50" font-size="22.10" textLength="87.31" lengthAdjust="spacingAndGlyphs" stroke="#2b2b2b" stroke-width="0.3">Pakistan</text>
<text x="698.52" y="753.50" font-size="21.01" textLength="68.55" lengthAdjust="spacingAndGlyphs" stroke="#2b2b2b" stroke-width="0.3">Nigeria</text>
<text x="769.41" y="725.75" font-size="11.42" textLength="65.65" lengthAdjust="spacingAndGlyphs" stroke="#2b2b2b" stroke-width="0.3">Cote d&#x27;Ivoire</text>
<text x="741.89" y="634.75" font-size="7.46" textLength="25.61" lengthAdjust="spacingAndGlyphs" stroke="#2b2b2b" stroke-width="0.18">Djibouti</text>
<text x="784.43" y="646.50" font-size="11.11" textLength="34.35" lengthAdjust="spacingAndGlyphs" stroke="#2b2b2b" stroke-width="0.3">Ghana</text>
<text x="802.75" y="676.50" font-size="11.69" textLength="37.49" lengthAdjust="spacingAndGlyphs" stroke="#2b2b2b" stroke-width="0.3">Angola</text>
<text x="888.89" y="676.00" font-size="7.45" textLength="28.14" lengthAdjust="spacingAndGlyphs" stroke="#2b2b2b" stroke-width="0.18">Namibia</text>
<text x="559.56" y="676.50" font-size="8.50" textLength="25.80" lengthAdjust="spacingAndGlyphs" stroke="#2b2b2b" stroke-width="0.24">Congo</text>
<text x="496.22" y="683.50" font-size="6.71" textLength="25.24" lengthAdjust="spacingAndGlyphs" stroke="#2b2b2b" stroke-width="0.18">Vanuatu</text>
<text x="606.92" y="697.25" font-size="10.07" textLength="26.53" lengthAdjust="spacingAndGlyphs" stroke="#2b2b2b" stroke-width="0.3">Benin</text>
<text x="593.77" y="722.25" font-size="8.90" textLength="79.51" lengthAdjust="spacingAndGlyphs" stroke="#2b2b2b" stroke-width="0.24">Papua New Guinea</text>
<text x="505.64" y="718.25" font-size="10.47" textLength="21.57" lengthAdjust="spacingAndGlyphs" stroke="#2b2b2b" stroke-width="0.3">Haiti</text>
<text x="552.22" y="734.75" font-size="6.38" textLength="31.78" lengthAdjust="spacingAndGlyphs" stroke="#2b2b2b" stroke-width="0.18">Micronesia</text>
<text x="539.93" y="753.50" font-size="10.43" textLength="35.82" lengthAdjust="spacingAndGlyphs" stroke="#2b2b2b" stroke-width="0.3">Zambia</text>
<text x="632.91" y="755.50" font-size="11.46" textLength="55.10" lengthAdjust="spacingAndGlyphs" stroke="#2b2b2b" stroke-width="0.3">Cameroon</text>
<text x="475.26" y="790.25" font-size="9.56" textLength="31.74" lengthAdjust="spacingAndGlyphs" stroke="#2b2b2b" stroke-width="0.24">Guinea</text>
<text x="549.19" y="802.00" font-size="10.17" textLength="48.32" lengthAdjust="spacingAndGlyphs" stroke="#2b2b2b" stroke-width="0.3">Zimbabwe</text>
<text x="483.43" y="870.25" font-size="6.90" textLength="52.56" lengthAdjust="spacingAndGlyphs" stroke="#2b2b2b" stroke-width="0.18">Solomon Islands</text>
<text x="924.40" y="878.50" font-size="7.33" textLength="28.12" lengthAdjust="spacingAndGlyphs" stroke="#2b2b2b" stroke-width="0.18">Eswatini</text>
<text x="1063.41" y="630.50" font-size="6.68" textLength="24.11" lengthAdjust="spacingAndGlyphs" stroke="#2b2b2b" stroke-width="0.18">Guyana</text>
<text x="1066.15" y="655.75" font-size="7.26" textLength="59.85" lengthAdjust="spacingAndGlyphs" stroke="#2b2b2b" stroke-width="0.18">Equatorial Guinea</text>
<text x="967.82" y="673.00" font-size="14.62" textLength="81.21" lengthAdjust="spacingAndGlyphs" stroke="#2b2b2b" stroke-width="0.3">South Africa</text>
<text x="1141.36" y="776.75" font-size="7.77" textLength="35.15" lengthAdjust="spacingAndGlyphs" stroke="#2b2b2b" stroke-width="0.18">Botswana</text>
<text x="152.06" y="1051.00" font-size="8.45" textLength="93.38" lengthAdjust="spacingAndGlyphs" stroke="#2b2b2b" stroke-width="0.24">Central African Republic</text>
<text x="485.35" y="1065.50" font-size="7.90" textLength="28.97" lengthAdjust="spacingAndGlyphs" stroke="#2b2b2b" stroke-width="0.18">Lesotho</text>
</g>
<defs><filter id="sh" x="-10%" y="-10%" width="120%" height="120%"><feGaussianBlur stdDeviation="2.2"/></filter></defs>
<rect x="1495.5" y="522.5" width="280.5" height="518.5" fill="#000" opacity="0.13" filter="url(#sh)"/>
<polygon points="1499,1032 1612,1032 1612,1039 1499,1043" fill="#000" opacity="0.26" filter="url(#sh)"/>
<polygon points="1772,1032 1678,1032 1678,1039 1772,1043" fill="#000" opacity="0.26" filter="url(#sh)"/>
<rect x="1494.8" y="520.8" width="281.2" height="519.7" fill="#fbfbfb" stroke="#e4e6e8" stroke-width="0.8"/>
<text x="1544.30" y="546.30" font-size="18.80" fill="#5d7389" font-weight="bold" textLength="194.92" lengthAdjust="spacingAndGlyphs">WORLD HEALTH CHART</text>
<text x="1532.72" y="567.00" font-size="14.60" fill="#5d7389" textLength="206.03" lengthAdjust="spacingAndGlyphs">This graph is like a world map for</text>
<text x="1522.29" y="580.20" font-size="14.60" fill="#5d7389" textLength="225.69" lengthAdjust="spacingAndGlyphs">health and wealth. North and South</text>
<text x="1516.09" y="593.40" font-size="14.60" fill="#5d7389" textLength="237.49" lengthAdjust="spacingAndGlyphs">mean healthy and sick, East and West</text>
<text x="1514.37" y="606.60" font-size="14.60" fill="#5d7389" textLength="240.86" lengthAdjust="spacingAndGlyphs">mean rich and poor. the bubbles show</text>
<text x="1520.93" y="619.80" font-size="14.60" fill="#5d7389" textLength="228.54" lengthAdjust="spacingAndGlyphs">each country’s average lifespan and</text>
<text x="1511.38" y="633.00" font-size="14.60" fill="#5d7389" textLength="246.60" lengthAdjust="spacingAndGlyphs">income in 2021. Try to find your country</text>
<text x="1517.58" y="646.20" font-size="14.60" fill="#5d7389" textLength="235.72" lengthAdjust="spacingAndGlyphs">to see who the neighboring countries</text>
<text x="1527.23" y="659.40" font-size="14.60" fill="#5d7389" textLength="216.42" lengthAdjust="spacingAndGlyphs">are with similar health and wealth.</text>
<text x="1544.03" y="700.80" font-size="18.10" fill="#5d7389" textLength="182.07" lengthAdjust="spacingAndGlyphs">COLOR SHOWS REGION</text>
<text x="1539.59" y="825.30" font-size="18.10" fill="#5d7389" textLength="204.02" lengthAdjust="spacingAndGlyphs">SIZE SHOWS POPULATION</text>
<circle cx="1667.9" cy="880.2" r="47.4" fill="#eef3f6" stroke="#b3bfc7" stroke-width="0.8"/>
<circle cx="1601.5" cy="880" r="16.6" fill="#eef3f6" stroke="#b3bfc7" stroke-width="0.8"/>
<circle cx="1577.6" cy="880.1" r="5.45" fill="#eef3f6" stroke="#b3bfc7" stroke-width="0.8"/>
<circle cx="1564.6" cy="880.2" r="2.0" fill="#eef3f6" stroke="#b3bfc7" stroke-width="0.8"/>
<text x="1647.49" y="876.70" font-size="14.80" fill="#5d7389" textLength="36.96" lengthAdjust="spacingAndGlyphs" stroke="#5d7389" stroke-width="0.45">1 000</text>
<text x="1641.79" y="895.80" font-size="14.80" fill="#5d7389" textLength="48.30" lengthAdjust="spacingAndGlyphs" stroke="#5d7389" stroke-width="0.45">million</text>
<text x="1562.18" y="891.90" font-size="8.50" fill="#5d7389" textLength="3.84" lengthAdjust="spacingAndGlyphs" stroke="#5d7389" stroke-width="0.3">1</text>
<text x="1572.27" y="896.70" font-size="9.60" fill="#5d7389" textLength="10.90" lengthAdjust="spacingAndGlyphs" stroke="#5d7389" stroke-width="0.3">10</text>
<text x="1592.15" y="911.00" font-size="12.20" fill="#5d7389" textLength="18.88" lengthAdjust="spacingAndGlyphs" stroke="#5d7389" stroke-width="0.35">100</text>
<text x="1525.72" y="948.50" font-size="14.60" fill="#5d7389" textLength="232.76" lengthAdjust="spacingAndGlyphs">The world is always changing, for the</text>
<text x="1522.57" y="961.55" font-size="14.60" fill="#5d7389" textLength="238.40" lengthAdjust="spacingAndGlyphs">latest version of this graph and to see</text>
<text x="1515.79" y="974.60" font-size="14.60" fill="#5d7389" textLength="252.51" lengthAdjust="spacingAndGlyphs">the amazing improvements all countries</text>
<text x="1517.51" y="987.65" font-size="14.60" fill="#5d7389" textLength="247.94" lengthAdjust="spacingAndGlyphs">have made over the last 200 years, use</text>
<text x="1561.23" y="1000.70" font-size="14.60" fill="#5d7389" textLength="161.56" lengthAdjust="spacingAndGlyphs">our free online tools here:</text>
<text x="1585.76" y="1026.80" font-size="17.50" fill="#5d7389" font-weight="bold" textLength="112.12" lengthAdjust="spacingAndGlyphs">gapm.io/whc</text>
<g transform="translate(1545,705) scale(0.10166)" stroke-linejoin="round">
<polygon points="70,170 85,105 120,78 200,75 260,85 310,72 400,72 430,90 470,72 550,75 575,95 560,125 530,135 560,160 565,200 575,230 545,225 520,245 490,265 450,285 420,310 380,340 355,370 365,400 345,390 320,365 290,365 255,385 245,420 265,445 300,440 320,425 335,445 320,470 330,495 350,515 335,520 300,495 270,480 235,460 200,445 180,420 160,395 140,350 125,310 130,270 150,220 140,170 110,150 85,165" fill="#c2ea60"/>
<polygon points="385,165 430,130 470,140 490,120 515,130 490,160 450,170 430,195 400,175" fill="#fbfbfb"/>
<polygon points="330,418 380,425 430,440 420,452 370,440 335,430" fill="#c2ea60"/>
<polygon points="350,515 380,495 420,500 470,520 520,545 560,585 625,625 630,650 610,690 600,740 570,770 545,790 540,820 510,850 490,890 480,930 490,960 510,990 490,1000 450,975 425,930 415,880 410,830 400,770 380,720 345,680 320,630 320,590 335,550" fill="#c2ea60"/>
<polygon points="580,95 620,82 700,78 785,82 770,110 750,130 760,150 730,150 700,140 660,165 630,180 605,165 600,130" fill="#fbe84e"/>
<polygon points="800,320 800,285 830,270 850,245 830,225 810,205 835,170 850,190 880,185 885,155 920,110 960,92 1000,100 1050,115 1100,100 1160,85 1230,70 1300,72 1400,85 1500,92 1600,100 1710,115 1700,150 1660,170 1665,215 1640,225 1625,185 1630,150 1590,155 1570,185 1590,230 1585,270 1565,250 1560,215 1530,200 1430,200 1370,210 1300,200 1250,210 1200,185 1160,200 1110,205 1115,250 1130,290 1100,300 1050,330 1040,345 1000,345 985,320 960,330 930,320 910,290 890,285 870,310 840,325" fill="#fbe84e"/>
<polygon points="1015,262 1045,250 1075,262 1070,282 1035,285 1015,278" fill="#fbfbfb"/>
<polygon points="830,325 870,315 910,320 930,345 960,360 1000,350 1045,350 1060,400 1080,450 1105,495 1155,510 1140,560 1100,620 1085,670 1090,720 1060,760 1030,810 1000,850 960,855 940,810 920,740 915,680 905,620 890,570 860,545 800,560 770,530 750,480 750,430 775,380 800,340" fill="#9bdff5"/>
<polygon points="1115,710 1150,668 1160,690 1140,760 1115,765" fill="#9bdff5"/>
<polygon points="1045,345 1100,300 1130,290 1115,250 1110,205 1160,200 1200,185 1250,210 1300,200 1370,210 1430,200 1530,200 1560,215 1565,250 1580,275 1560,300 1530,300 1545,330 1560,370 1545,410 1510,440 1480,470 1495,500 1470,520 1440,490 1420,460 1400,440 1370,430 1340,470 1330,520 1335,550 1310,540 1290,500 1270,450 1240,410 1200,420 1185,445 1150,470 1115,490 1095,470 1075,430 1060,390" fill="#ea6477"/>
<polygon points="1130,378 1150,385 1160,405 1145,400" fill="#fbfbfb"/>
<polygon points="1600,260 1630,255 1640,290 1625,330 1590,325 1570,335 1560,320 1590,305 1610,290" fill="#ea6477"/>
<polygon points="1545,450 1575,470 1600,520 1590,550 1570,540 1555,500" fill="#ea6477"/>
<polygon points="1500,560 1540,545 1565,570 1560,610 1520,615 1495,595" fill="#ea6477"/>
<polygon points="1570,575 1600,570 1590,620 1570,615" fill="#ea6477"/>
<polygon points="1410,545 1430,540 1460,600 1500,635 1560,650 1605,655 1600,670 1540,668 1490,655 1450,620 1420,580" fill="#ea6477"/>
<polygon points="1620,595 1660,600 1700,620 1730,635 1725,670 1700,650 1660,640 1630,620" fill="#ea6477"/>
<polygon points="1500,830 1510,770 1560,730 1610,690 1640,680 1660,700 1680,670 1700,700 1715,760 1720,800 1700,850 1660,885 1640,880 1620,845 1580,830 1540,835 1510,845" fill="#ea6477"/>
<polygon points="1700,885 1750,825 1762,840 1712,895" fill="#ea6477"/>
</g>
<circle cx="67.5" cy="1147" r="22.5" fill="#b1c5cd"/>
<path d="M68.85,1133.37 A12.93,12.93 0 0 0 68.85,1159.23 A6.85,6.85 0 0 0 68.85,1145.53" fill="none" stroke="#fff" stroke-width="5"/>
<text x="111.81" y="1141.00" font-size="17.30" fill="#a5c4d1" textLength="362.35" lengthAdjust="spacingAndGlyphs" stroke="#a5c4d1" stroke-width="0.3">SOURCES - INCOME: World Bank’s GDP per capita,</text>
<text x="477.50" y="1141.00" font-size="17.30" fill="#a5c4d1" textLength="398.85" lengthAdjust="spacingAndGlyphs" stroke="#a5c4d1" stroke-width="0.3">PPP (2017 international $) extended to 2021 with IMF’s</text>
<text x="879.68" y="1141.00" font-size="17.30" fill="#a5c4d1" textLength="87.93" lengthAdjust="spacingAndGlyphs" stroke="#a5c4d1" stroke-width="0.3">projections.</text>
<text x="969.89" y="1141.00" font-size="17.30" fill="#a5c4d1" textLength="428.21" lengthAdjust="spacingAndGlyphs" stroke="#a5c4d1" stroke-width="0.3">X-axis uses log-scale to make a doubling income show the</text>
<text x="1402.11" y="1141.00" font-size="17.30" fill="#a5c4d1" textLength="199.72" lengthAdjust="spacingAndGlyphs" stroke="#a5c4d1" stroke-width="0.3">same distance on all levels.</text>
<text x="111.29" y="1162.00" font-size="17.30" fill="#a5c4d1" textLength="271.43" lengthAdjust="spacingAndGlyphs" stroke="#a5c4d1" stroke-width="0.3">POPULATION and LIFE EXPECTANCY:</text>
<text x="385.03" y="1162.00" font-size="17.30" fill="#a5c4d1" textLength="69.81" lengthAdjust="spacingAndGlyphs" stroke="#a5c4d1" stroke-width="0.3">Data from</text>
<text x="458.76" y="1162.00" font-size="17.30" fill="#a5c4d1" textLength="229.77" lengthAdjust="spacingAndGlyphs" stroke="#a5c4d1" stroke-width="0.3">UN Population Prospects 2019.</text>
<text x="111.29" y="1183.70" font-size="17.30" fill="#a5c4d1" textLength="68.90" lengthAdjust="spacingAndGlyphs" stroke="#a5c4d1" stroke-width="0.3">LICENSE:</text>
<text x="183.06" y="1183.70" font-size="17.30" fill="#a5c4d1" textLength="264.77" lengthAdjust="spacingAndGlyphs" stroke="#a5c4d1" stroke-width="0.3">Our charts are freely available under</text>
<text x="451.17" y="1183.70" font-size="17.30" fill="#a5c4d1" textLength="61.55" lengthAdjust="spacingAndGlyphs" stroke="#a5c4d1" stroke-width="0.3">Creative</text>
<text x="516.18" y="1183.70" font-size="17.30" fill="#a5c4d1" textLength="74.72" lengthAdjust="spacingAndGlyphs" stroke="#a5c4d1" stroke-width="0.3">Commons</text>
<text x="594.50" y="1183.70" font-size="17.30" fill="#a5c4d1" textLength="80.10" lengthAdjust="spacingAndGlyphs" stroke="#a5c4d1" stroke-width="0.3">Attribution</text>
<text x="677.46" y="1183.70" font-size="17.30" fill="#a5c4d1" textLength="62.43" lengthAdjust="spacingAndGlyphs" stroke="#a5c4d1" stroke-width="0.3">License.</text>
<text x="111.18" y="1204.70" font-size="17.30" fill="#a5c4d1" textLength="344.89" lengthAdjust="spacingAndGlyphs" stroke="#a5c4d1" stroke-width="0.3">Please copy, share, modify, integrate, and even</text>
<text x="459.50" y="1204.70" font-size="17.30" fill="#a5c4d1" textLength="24.88" lengthAdjust="spacingAndGlyphs" stroke="#a5c4d1" stroke-width="0.3">sell</text>
<text x="488.06" y="1204.70" font-size="17.30" fill="#a5c4d1" textLength="216.72" lengthAdjust="spacingAndGlyphs" stroke="#a5c4d1" stroke-width="0.3">them, as long as you mention:</text>
<text x="710.23" y="1204.70" font-size="17.30" fill="#a5c4d1" textLength="197.79" lengthAdjust="spacingAndGlyphs" stroke="#a5c4d1" stroke-width="0.3">“Based on a free chart from</text>
<text x="912.00" y="1204.70" font-size="17.30" fill="#a5c4d1" textLength="161.10" lengthAdjust="spacingAndGlyphs" stroke="#a5c4d1" stroke-width="0.3">www.gapminder.org”.</text>
<circle cx="1819" cy="1162.4" r="20.8" fill="none" stroke="#b1c5cd" stroke-width="4"/>
<text x="1805.21" y="1169.90" font-size="28.50" fill="#b1c5cd" font-weight="bold" textLength="27.59" lengthAdjust="spacingAndGlyphs">cc</text>
<text x="1727.23" y="1204.70" font-size="17.30" fill="#a5c4d1" textLength="117.49" lengthAdjust="spacingAndGlyphs">VERSION 2022.1</text>
</svg>
</body></html>
